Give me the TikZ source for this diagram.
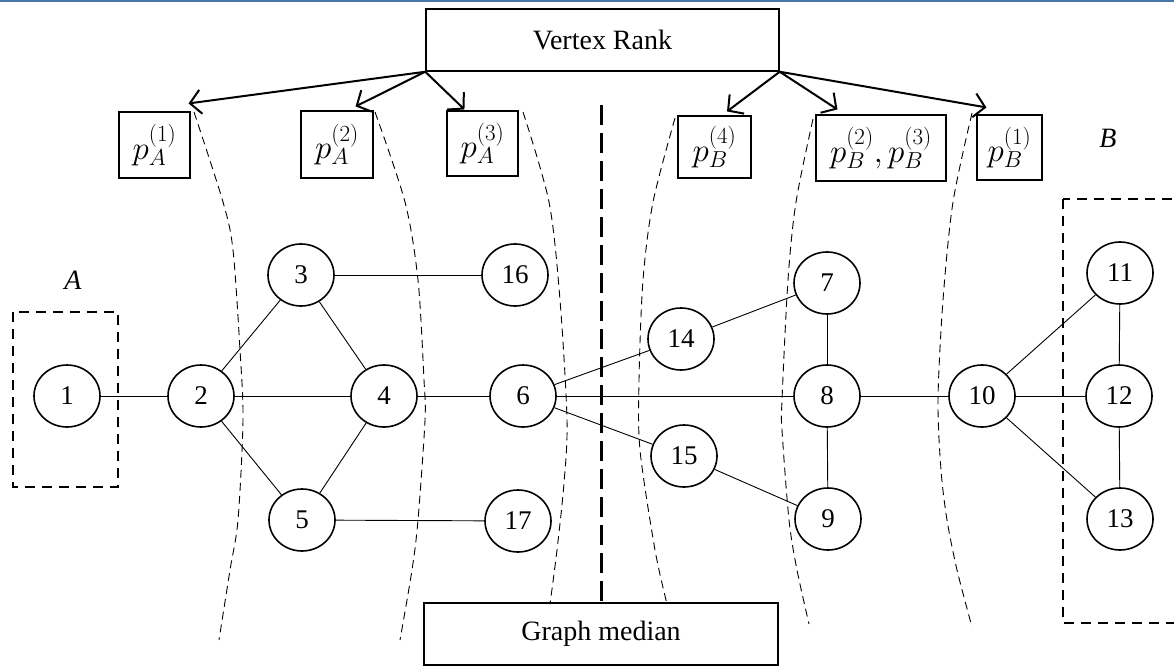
\RequirePackage{fix-cm}
\documentclass[tikz,border=0pt]{standalone}
\usepackage{fontspec}
\setmainfont{Liberation Serif}
\usetikzlibrary{arrows.meta,shapes.geometric}
\definecolor{rulebar}{RGB}{74,118,165}
\begin{document}
\begin{tikzpicture}[x=1pt,y=-1pt,
  vertex/.style={ellipse, draw, line width=1.6pt, minimum width=66pt, minimum height=62pt,
                 inner sep=0pt, font=\fontsize{27}{27}\selectfont},
  edge/.style={line width=0.9pt},
  bigbox/.style={draw, line width=1.5pt, inner sep=0pt, font=\fontsize{28}{28}\selectfont},
  probbox/.style={draw, line width=1.1pt, inner sep=0pt, font=\fontsize{33}{33}\selectfont},
  setlabel/.style={font=\fontsize{28}{28}\selectfont\itshape, inner sep=0pt},
  rankarrow/.style={line width=2pt, -{Straight Barb[length=11pt,width=24pt,line width=2pt]}},
  groupbox/.style={line width=2.5pt, dash pattern=on 10pt off 7pt},
  medianline/.style={line width=3pt, dash pattern=on 20pt off 8pt},
  cutline/.style={line width=0.9pt, dash pattern=on 8pt off 5pt}]
\useasboundingbox (0,0) rectangle (1174,666);
\clip (0,0) rectangle (1174,666);
\fill[rulebar] (0,0) rectangle (1174,2);

% rank and median boxes
\node[bigbox, minimum width=353pt, minimum height=62pt] (vr) at (602.5,40) {Vertex Rank};
\node[bigbox, minimum width=354pt, minimum height=62pt] (gm) at (601,634) {Graph median};

% probability labels
\node[probbox, minimum width=71pt, minimum height=66pt] (pa1) at (154.5,145) {$p_A^{(1)}$};
\node[probbox, minimum width=72pt, minimum height=67pt] (pa2) at (337,144.5) {$p_A^{(2)}$};
\node[probbox, minimum width=71pt, minimum height=65pt] (pa3) at (482.5,143.5) {$p_A^{(3)}$};
\node[probbox, minimum width=73pt, minimum height=62pt] (pb4) at (714.5,147) {$p_B^{(4)}$};
\node[probbox, minimum width=130pt, minimum height=66pt] (pb23) at (881,148) {$p_B^{(2)},p_B^{(3)}$};
\node[probbox, minimum width=65pt, minimum height=65pt] (pb1) at (1009.5,147.5) {$p_B^{(1)}$};

\draw[rankarrow] (vr.south west) -- ([shift={(-2,-8)}]pa1.north east);
\draw[rankarrow] (vr.south west) -- ([shift={(-18,-4)}]pa2.north east);
\draw[rankarrow] (vr.south west) -- ([shift={(18,-1)}]pa3.north west);
\draw[rankarrow] (vr.south east) -- ([shift={(12.5,-4)}]pb4.north);
\draw[rankarrow] (vr.south east) -- ([shift={(22,-5)}]pb23.north west);
\draw[rankarrow] (vr.south east) -- ([shift={(10,-7)}]pb1.north west);

% set labels and group boxes
\node[setlabel] (la) at (73,280) {A};
\node[setlabel] (lb) at (1108,138) {B};
\draw[groupbox] (13,312) rectangle (118,487);
\draw[groupbox] (1063,199) rectangle (1195,623);

% median divider
\coordinate (medtop) at (601,105);
\draw[medianline] (medtop) -- (gm.north);

% cut curves
\draw[cutline] plot[smooth] coordinates {(194,112) (223,202) (233,250) (240,350) (243,420) (238,520) (230,570) (219,640)};
\draw[cutline] plot[smooth] coordinates {(375,112) (405,202) (418,280) (424,380) (425,420) (418,520) (412,570) (400,640)};
\draw[cutline] plot[smooth] coordinates {(523,112) (549,202) (560,300) (567,420) (564,483) (557,550) (550,604)};
\draw[cutline] plot[smooth] coordinates {(675,118) (653,202) (643,280) (639,380) (640,450) (655,550) (667,604)};
\draw[cutline] plot[smooth] coordinates {(813,119) (796,202) (788,280) (782,400) (782,430) (789,520) (797,570) (809,624)};
\draw[cutline] plot[smooth] coordinates {(972,113) (953,202) (943,300) (938,400) (941,470) (947,520) (957,570) (972,627)};

% vertices
\node[vertex] (n1) at (67,396) {1};
\node[vertex] (n2) at (201,396) {2};
\node[vertex] (n3) at (301,275) {3};
\node[vertex] (n4) at (384,396) {4};
\node[vertex] (n5) at (302,520) {5};
\node[vertex] (n16) at (515,275) {16};
\node[vertex] (n17) at (518,521) {17};
\node[vertex] (n6) at (523,396) {6};
\node[vertex] (n14) at (681,339) {14};
\node[vertex] (n15) at (684,456) {15};
\node[vertex] (n7) at (827,283) {7};
\node[vertex] (n8) at (827,396) {8};
\node[vertex] (n9) at (828,519) {9};
\node[vertex] (n10) at (982,396) {10};
\node[vertex] (n11) at (1120,273) {11};
\node[vertex] (n12) at (1119,396) {12};
\node[vertex] (n13) at (1120,519) {13};

% edges
\draw[edge] (n1) -- (n2);
\draw[edge] (n2) -- (n3);
\draw[edge] (n2) -- (n4);
\draw[edge] (n2) -- (n5);
\draw[edge] (n3) -- (n4);
\draw[edge] (n5) -- (n4);
\draw[edge] (n3) -- (n16);
\draw[edge] (n5) -- (n17);
\draw[edge] (n4) -- (n6);
\draw[edge] (n6) -- (n14);
\draw[edge] (n6) -- (n8);
\draw[edge] (n6) -- (n15);
\draw[edge] (n14) -- (n7);
\draw[edge] (n15) -- (n9);
\draw[edge] (n7) -- (n8);
\draw[edge] (n8) -- (n9);
\draw[edge] (n8) -- (n10);
\draw[edge] (n10) -- (n11);
\draw[edge] (n10) -- (n12);
\draw[edge] (n10) -- (n13);
\draw[edge] (n11) -- (n12);
\draw[edge] (n12) -- (n13);
\end{tikzpicture}
\end{document}
